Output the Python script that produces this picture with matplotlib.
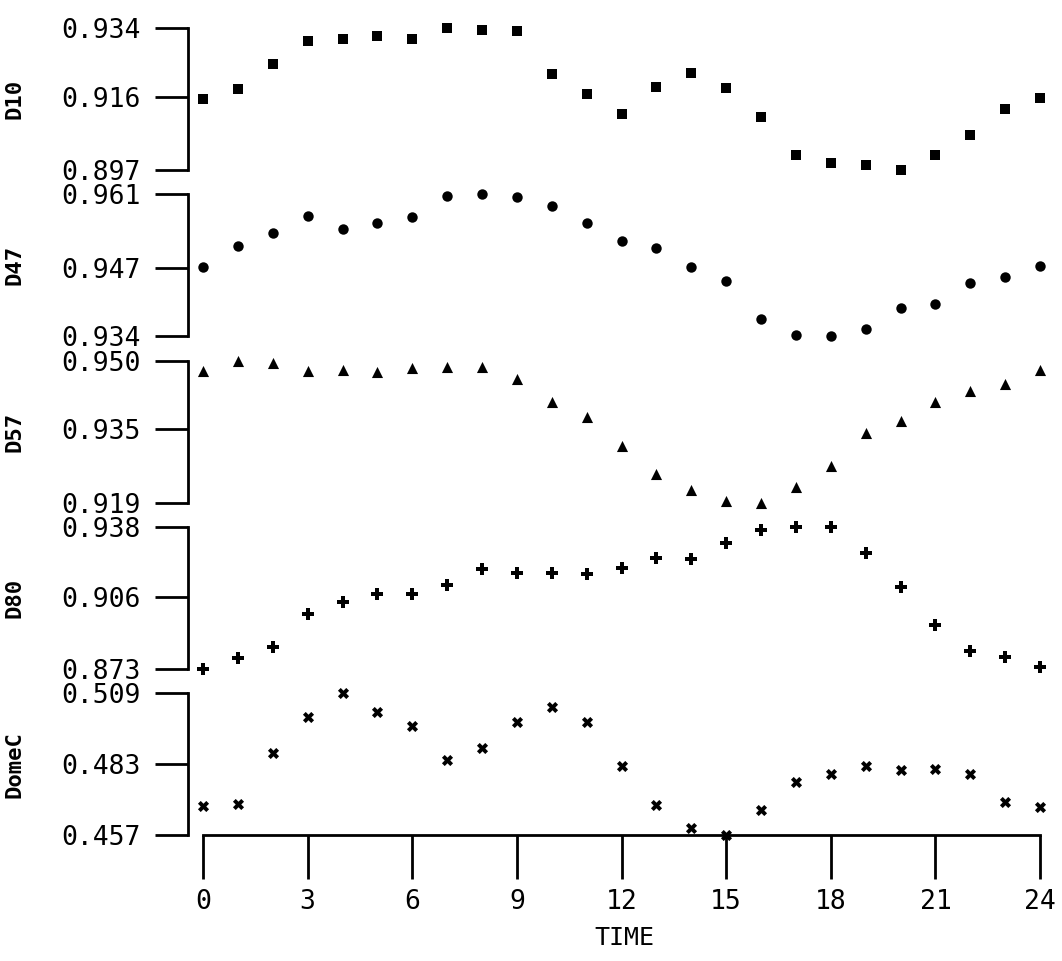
import matplotlib
matplotlib.use("Agg")
import matplotlib.pyplot as plt

# Hourly samples
time = [0, 1, 2, 3, 4, 5, 6, 7, 8, 9, 10, 11, 12,
        13, 14, 15, 16, 17, 18, 19, 20, 21, 22, 23, 24]

d10 = [0.9154, 0.9182, 0.9245, 0.9306, 0.9311, 0.9318, 0.9311, 0.9340, 0.9336,
       0.9331, 0.9221, 0.9168, 0.9115, 0.9186, 0.9222, 0.9184, 0.9109, 0.9009,
       0.8988, 0.8982, 0.8970, 0.9010, 0.9062, 0.9129, 0.9157]
d47 = [0.9472, 0.9512, 0.9536, 0.9569, 0.9544, 0.9555, 0.9566, 0.9606, 0.9610,
       0.9605, 0.9587, 0.9555, 0.9522, 0.9507, 0.9472, 0.9445, 0.9372, 0.9342,
       0.9340, 0.9353, 0.9393, 0.9401, 0.9442, 0.9453, 0.9473]
d57 = [0.9478, 0.9500, 0.9494, 0.9478, 0.9480, 0.9476, 0.9484, 0.9485, 0.9486,
       0.9459, 0.9410, 0.9376, 0.9313, 0.9252, 0.9217, 0.9193, 0.9190, 0.9223,
       0.9269, 0.9341, 0.9369, 0.9410, 0.9434, 0.9450, 0.9479]
d80 = [0.8730, 0.8778, 0.8829, 0.8983, 0.9038, 0.9074, 0.9073, 0.9114, 0.9186,
       0.9167, 0.9167, 0.9163, 0.9194, 0.9237, 0.9233, 0.9305, 0.9365, 0.9379,
       0.9380, 0.9262, 0.9105, 0.8932, 0.8810, 0.8786, 0.8740]
domec = [0.4677, 0.4685, 0.4872, 0.5002, 0.5090, 0.5021, 0.4969, 0.4845, 0.4891,
         0.4984, 0.5040, 0.4985, 0.4822, 0.4682, 0.4596, 0.4570, 0.4664, 0.4763,
         0.4795, 0.4823, 0.4807, 0.4813, 0.4794, 0.4691, 0.4673]

# Axis ticks: min, mid, max of each variable
d10_ticks = [0.897, 0.916, 0.934]
d47_ticks = [0.934, 0.947, 0.961]
d57_ticks = [0.919, 0.935, 0.950]
d80_ticks = [0.873, 0.906, 0.938]
domec_ticks = [0.457, 0.483, 0.509]

names = ["D10", "D47", "D57", "D80", "DomeC"]
values = [d10, d47, d57, d80, domec]
ticks = [d10_ticks, d47_ticks, d57_ticks, d80_ticks, domec_ticks]
markers = ["s", "o", "^", "P", "X"]
msizes = [6.5, 7.5, 8, 8.5, 8]

time_ticks = [0, 3, 6, 9, 12, 15, 18, 21, 24]

W, H = 1062, 961
fig = plt.figure(figsize=(W / 100, H / 100), dpi=100)
fig.patch.set_facecolor("white")

FONT = "DejaVu Sans Mono"
left_px = 188
right_px = 1060
x0_px = 203
x24_px = 1040
unit_px = (x24_px - x0_px) / 24
xlim = (-(x0_px - left_px) / unit_px, (right_px - x0_px) / unit_px)

panel_h = 142
for i, (name, vals, tks, mk, ms) in enumerate(zip(names, values, ticks, markers, msizes)):
    top_px = 28 + 166.3 * i
    bot_px = top_px + panel_h
    ax = fig.add_axes([left_px / W, 1 - bot_px / H,
                       (right_px - left_px) / W, panel_h / H])
    ax.set_facecolor("none")
    ax.scatter(time, vals, marker=mk, s=ms ** 2, color="black",
               linewidths=0, clip_on=False, zorder=3)
    ax.set_xlim(*xlim)
    ax.set_ylim(tks[0], tks[-1])
    for side in ("top", "right"):
        ax.spines[side].set_visible(False)
    ax.spines["left"].set_linewidth(2)
    ax.set_yticks(tks)
    ax.set_yticklabels([f"{t:.3f}" for t in tks], fontsize=19, family=FONT)
    ax.tick_params(axis="y", direction="out", length=24, width=2, pad=10)
    ax.set_ylabel(name, fontsize=16, family=FONT, fontweight="bold", rotation=90)
    ax.yaxis.set_label_coords((25 - left_px) / (right_px - left_px), 0.5)

    if i < len(names) - 1:
        ax.spines["bottom"].set_visible(False)
        ax.set_xticks([])
    else:
        ax.spines["bottom"].set_linewidth(2)
        ax.spines["bottom"].set_bounds(time_ticks[0], time_ticks[-1])
        ax.set_xticks(time_ticks)
        ax.set_xticklabels([str(t) for t in time_ticks], fontsize=19, family=FONT)
        ax.tick_params(axis="x", direction="out", length=32, width=2, pad=7)
        ax.set_xlabel("TIME", fontsize=18, family=FONT, labelpad=8)

fig.savefig("out.png", dpi=100, facecolor="white")
